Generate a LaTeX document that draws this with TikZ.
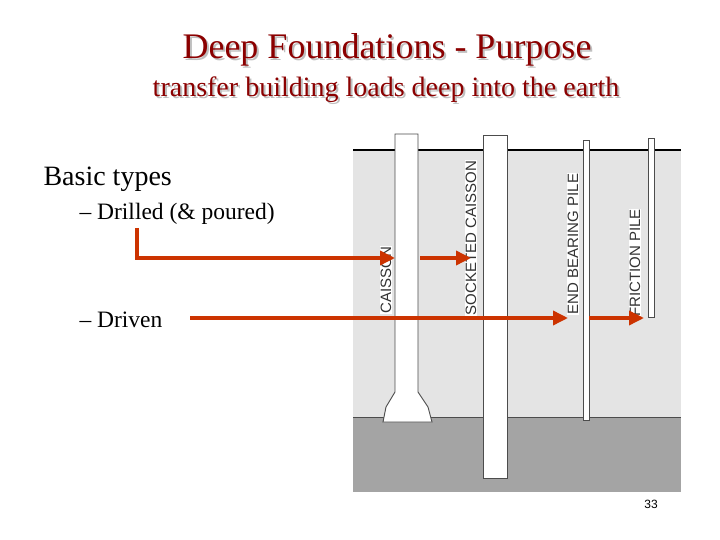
\documentclass[tikz,border=0pt]{standalone}
\usepackage{fontspec}
\setmainfont{Liberation Serif}
\newfontfamily\lblfont{Liberation Sans}
\usetikzlibrary{arrows.meta}
\definecolor{ttl}{HTML}{8B0000}
\definecolor{arr}{HTML}{CC3300}
\definecolor{soil}{HTML}{E4E4E4}
\definecolor{rock}{HTML}{A4A4A4}
\tikzset{
  px/.style={x=1pt,y=-1pt},
  shaft/.style={draw=black!70,fill=white,line width=0.9pt},
  lbl/.style={font=\lblfont\fontsize{15}{15}\selectfont,fill=white,inner sep=0.5pt,rotate=90,text=black!80},
  redarrow/.style={draw=arr,line width=3.5pt,-{Triangle[length=15pt,width=14pt]}},
}
\begin{document}
\begin{tikzpicture}[px]
\useasboundingbox (0,0) rectangle (720,540);
\node[text=gray!50] at (389,52) {\fontsize{36}{36}\selectfont Deep Foundations - Purpose};
\node[text=ttl] (title) at (387,50) {\fontsize{36}{36}\selectfont Deep Foundations - Purpose};
\node[text=gray!50] at (388,92) {\fontsize{28}{28}\selectfont transfer building loads deep into the earth};
\node[text=ttl] (sub) at (386,90) {\fontsize{28}{28}\selectfont transfer building loads deep into the earth};
\node[anchor=west] (basic) at (40,179) {\fontsize{28}{28}\selectfont Basic types};
\node[anchor=west] (drilled) at (76,214) {\fontsize{23.5}{24}\selectfont -- Drilled (\& poured)};
\node[anchor=west] (driven) at (76,320) {\fontsize{23.5}{24}\selectfont -- Driven};
\fill[soil] (353,150) rectangle (681,417);
\fill[rock] (353,417) rectangle (681,492);
\draw[line width=1.3pt] (353,150) -- (681,150);
\draw[black!70,line width=0.9pt] (353,417) -- (681,417);
\draw[shaft] (395,134) -- (418,134) -- (418,392) -- (428,407) -- (432,422) -- (383,422) -- (386,407) -- (395,392) -- cycle;
\draw[shaft] (483,135) rectangle (507,478);
\draw[shaft,line width=0.8pt] (583,140) rectangle (589,420);
\draw[shaft,line width=0.8pt] (648,138) rectangle (654,317);
\begin{scope}
\clip (377,150) rectangle (394,400);
\node[lbl] (lc) at (386,280) {CAISSON};
\end{scope}
\node[lbl] (ls) at (471,238) {SOCKETED CAISSON};
\node[lbl] (le) at (573,244) {END BEARING PILE};
\node[lbl] (lf) at (635,263) {FRICTION PILE};
\coordinate (d0) at (137,228);
\coordinate (d1) at (137,258);
\coordinate (d2) at (395,258);
\coordinate (d3) at (420,258);
\coordinate (d4) at (471,258);
\draw[redarrow] (d0) -- (d1) -- (d2);
\draw[redarrow] (d3) -- (d4);
\coordinate (v0) at (190,318);
\coordinate (v1) at (568,318);
\coordinate (v2) at (589,318);
\coordinate (v3) at (644,318);
\draw[redarrow] (v0) -- (v1);
\draw[redarrow] (v2) -- (v3);
\node[font=\lblfont\fontsize{12}{12}\selectfont] (pg) at (651,504) {33};
\end{tikzpicture}
\end{document}
